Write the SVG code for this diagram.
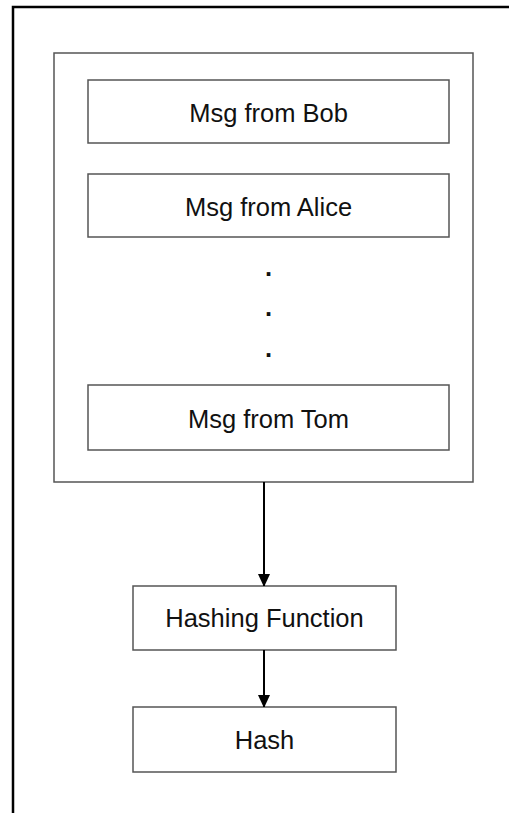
<svg xmlns="http://www.w3.org/2000/svg" width="509" height="813" viewBox="0 0 509 813">
<defs>
<marker id="arr" viewBox="0 0 12 13" refX="12" refY="6" markerWidth="12" markerHeight="13" markerUnits="userSpaceOnUse" orient="auto">
<path d="M0,0 L13,6 L0,12 Z" fill="#000"/>
</marker>
</defs>
<style>
.box{fill:#fff;stroke:#555;stroke-width:1.5}
.lbl{font-family:"Liberation Sans",Arial,sans-serif;font-size:25.5px;fill:#111;text-anchor:middle}
.dot{font-weight:bold}
.conn{stroke:#000;stroke-width:2;fill:none}
</style>
<rect width="509" height="813" fill="#fff"/>
<rect id="frame" x="13" y="7" width="520" height="830" fill="none" stroke="#000" stroke-width="2.5"/>
<g id="container">
<rect class="box" x="54" y="53" width="419" height="429"/>
</g>
<g id="bob">
<rect class="box" x="88" y="80" width="361" height="63"/>
<text class="lbl" x="268.5" y="122">Msg from Bob</text>
</g>
<g id="alice">
<rect class="box" x="88" y="174" width="361" height="63"/>
<text class="lbl" x="268.5" y="216">Msg from Alice</text>
</g>
<g id="dots">
<text class="lbl dot" x="268.5" y="276">.</text>
<text class="lbl dot" x="268.5" y="316">.</text>
<text class="lbl dot" x="268.5" y="357">.</text>
</g>
<g id="tom">
<rect class="box" x="88" y="385" width="361" height="65"/>
<text class="lbl" x="268.5" y="428">Msg from Tom</text>
</g>
<g id="hashing">
<rect class="box" x="133" y="586" width="263" height="64"/>
<text class="lbl" x="264.5" y="627">Hashing Function</text>
</g>
<g id="hash">
<rect class="box" x="133" y="707" width="263" height="65"/>
<text class="lbl" x="264.5" y="749">Hash</text>
</g>
<g id="connectors">
<line class="conn" x1="264" y1="482" x2="264" y2="586" marker-end="url(#arr)"/>
<line class="conn" x1="264" y1="650" x2="264" y2="707" marker-end="url(#arr)"/>
</g>
</svg>
